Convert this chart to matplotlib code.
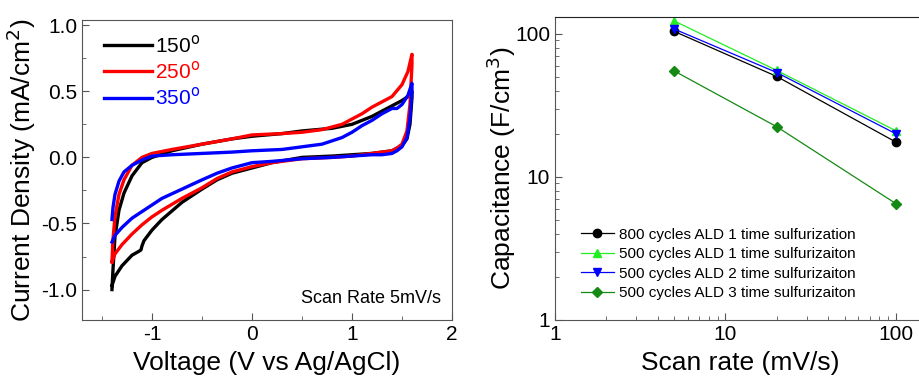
import numpy as np
import matplotlib.pyplot as plt
from matplotlib.ticker import MultipleLocator, LogLocator, NullFormatter

plt.rcParams['font.family'] = ['Liberation Sans', 'DejaVu Sans']

# cyclic voltammetry loops: upper (anodic) branch then lower (cathodic) branch
v_150 = [-1.40, -1.39, -1.37, -1.33, -1.28, -1.20, -1.10, -1.00, -0.80, -0.50, -0.20, 0.00, 0.30,
         0.50, 0.80, 1.00, 1.20, 1.40, 1.50, 1.58, 1.60,
         1.60, 1.58, 1.55, 1.50, 1.45, 1.40, 1.30, 1.20, 1.00, 0.80, 0.50, 0.20, 0.00, -0.20,
         -0.35, -0.50, -0.70, -0.90, -1.00, -1.08, -1.10, -1.11, -1.13, -1.20, -1.30, -1.37, -1.40]
i_150 = [-1.00, -0.85, -0.60, -0.40, -0.27, -0.14, -0.04, 0.00, 0.05, 0.10, 0.14, 0.16, 0.18,
         0.20, 0.22, 0.25, 0.31, 0.39, 0.43, 0.47, 0.50,
         0.45, 0.25, 0.14, 0.09, 0.07, 0.05, 0.04, 0.03, 0.02, 0.01, 0.00, -0.04, -0.08, -0.12,
         -0.17, -0.24, -0.34, -0.47, -0.55, -0.63, -0.67, -0.70, -0.71, -0.74, -0.82, -0.90, -0.97]

v_250 = [-1.40, -1.39, -1.37, -1.33, -1.28, -1.20, -1.10, -1.00, -0.80, -0.50, -0.20, 0.00, 0.30,
         0.50, 0.70, 0.90, 1.00, 1.10, 1.20, 1.30, 1.40, 1.50, 1.56, 1.60,
         1.60, 1.58, 1.55, 1.50, 1.45, 1.40, 1.30, 1.20, 1.00, 0.80, 0.50, 0.20, 0.00, -0.20,
         -0.35, -0.50, -0.70, -0.90, -1.00, -1.10, -1.20, -1.30, -1.37, -1.40]
i_250 = [-0.79, -0.62, -0.45, -0.28, -0.17, -0.06, 0.00, 0.03, 0.06, 0.10, 0.14, 0.17, 0.18,
         0.19, 0.21, 0.25, 0.29, 0.33, 0.38, 0.42, 0.46, 0.55, 0.65, 0.78,
         0.70, 0.40, 0.20, 0.10, 0.07, 0.05, 0.04, 0.03, 0.01, 0.00, -0.01, -0.04, -0.07, -0.11,
         -0.16, -0.23, -0.31, -0.40, -0.45, -0.51, -0.58, -0.66, -0.73, -0.79]

v_350 = [-1.40, -1.39, -1.37, -1.33, -1.28, -1.20, -1.10, -1.00, -0.80, -0.50, -0.20, 0.00, 0.30,
         0.50, 0.70, 0.90, 1.00, 1.10, 1.20, 1.30, 1.40, 1.45, 1.50, 1.56, 1.60,
         1.60, 1.58, 1.55, 1.50, 1.45, 1.40, 1.30, 1.20, 1.00, 0.80, 0.50, 0.20, 0.00, -0.20,
         -0.35, -0.50, -0.70, -0.90, -1.00, -1.10, -1.20, -1.30, -1.37, -1.40]
i_350 = [-0.47, -0.38, -0.28, -0.18, -0.11, -0.06, -0.02, 0.01, 0.02, 0.03, 0.04, 0.05, 0.06,
         0.08, 0.10, 0.15, 0.19, 0.24, 0.28, 0.33, 0.37, 0.37, 0.40, 0.47, 0.56,
         0.50, 0.30, 0.15, 0.08, 0.05, 0.03, 0.02, 0.02, 0.01, 0.00, -0.01, -0.03, -0.04, -0.08,
         -0.12, -0.17, -0.24, -0.31, -0.36, -0.41, -0.46, -0.53, -0.59, -0.64]

cv_labels = ['150$^{\\mathrm{o}}$', '250$^{\\mathrm{o}}$', '350$^{\\mathrm{o}}$']
cv_colors = ['black', '#ff0000', '#0000ff']

# capacitance vs scan rate
scan_rate = [5, 20, 100]
cap_800_1 = [104, 50.3, 17.5]
cap_500_1 = [123, 55.4, 21.0]
cap_500_2 = [108, 53.6, 20.0]
cap_500_3 = [55, 22.4, 6.5]
cap_labels = ['800 cycles ALD 1 time sulfurization',
              '500 cycles ALD 1 time sulfurizaiton',
              '500 cycles ALD 2 time sulfurizaiton',
              '500 cycles ALD 3 time sulfurizaiton']
cap_colors = ['black', '#22ee22', '#0000ff', '#148a14']
cap_markers = ['o', '^', 'v', 'D']

fig = plt.figure(figsize=(9.19, 3.77), dpi=100)
spine_col = '#555555'

# ---- left panel: CV curves
ax1 = fig.add_axes([0.0892, 0.1512, 0.4026, 0.796])
for v, i, lab, c in zip([v_150, v_250, v_350], [i_150, i_250, i_350], cv_labels, cv_colors):
    ax1.plot(v, i, color=c, lw=2.4, label=lab, solid_joinstyle='round')
ax1.set_xlim(-1.7, 2)
ax1.set_ylim(-1.23, 1.04)
ax1.xaxis.set_major_locator(MultipleLocator(1))
ax1.xaxis.set_minor_locator(MultipleLocator(0.5))
ax1.yaxis.set_major_locator(MultipleLocator(0.5))
ax1.yaxis.set_minor_locator(MultipleLocator(0.25))
ax1.set_yticks([-1.0, -0.5, 0.0, 0.5, 1.0])
ax1.set_yticklabels(['-1.0', '-0.5', '0.0', '0.5', '1.0'])
ax1.set_xticks([-1, 0, 1, 2])
ax1.set_xticklabels(['-1', '0', '1', '2'])
ax1.tick_params(which='both', direction='in', labelsize=15, color=spine_col)
ax1.tick_params(which='major', length=5)
ax1.tick_params(which='minor', length=3)
for s in ax1.spines.values():
    s.set_color(spine_col)
ax1.set_xlabel('Voltage (V vs Ag/AgCl)', fontsize=19, labelpad=5)
ax1.set_ylabel('Current Density (mA/cm$^2$)', fontsize=19, labelpad=2)
leg = ax1.legend(loc='upper left', frameon=False, fontsize=15, handlelength=2.3,
                 handletextpad=0.15, labelspacing=0.2, borderaxespad=0.3,
                 bbox_to_anchor=(0.02, 1.0))
for txt, c in zip(leg.get_texts(), cv_colors):
    txt.set_color(c)
ax1.text(0.97, 0.07, 'Scan Rate 5mV/s', transform=ax1.transAxes, ha='right',
         va='center', fontsize=13)

# ---- right panel: capacitance vs scan rate
ax2 = fig.add_axes([0.6039, 0.1512, 0.4037, 0.8037])
for y, lab, c, m in zip([cap_800_1, cap_500_1, cap_500_2, cap_500_3], cap_labels,
                        cap_colors, cap_markers):
    ax2.plot(scan_rate, y, color=c, lw=0.9, marker=m, ms=6 if m != 'D' else 5,
             label=lab)
ax2.set_xscale('log')
ax2.set_yscale('log')
ax2.set_xlim(1, 150)
ax2.set_ylim(1, 131)
ax2.set_xticks([1, 10, 100])
ax2.set_xticklabels(['1', '10', '100'])
ax2.set_yticks([1, 10, 100])
ax2.set_yticklabels(['1', '10', '100'])
ax2.xaxis.set_minor_locator(LogLocator(base=10, subs=np.arange(2, 10)))
ax2.yaxis.set_minor_locator(LogLocator(base=10, subs=np.arange(2, 10)))
ax2.xaxis.set_minor_formatter(NullFormatter())
ax2.yaxis.set_minor_formatter(NullFormatter())
ax2.tick_params(which='both', direction='in', labelsize=15, color=spine_col)
ax2.tick_params(which='major', length=5)
ax2.tick_params(which='minor', length=3)
for s in ax2.spines.values():
    s.set_color(spine_col)
ax2.spines['top'].set_color('#222222')
ax2.set_xlabel('Scan rate (mV/s)', fontsize=19, labelpad=5)
ax2.set_ylabel('Capacitance (F/cm$^3$)', fontsize=19, labelpad=-2)
ax2.legend(loc='lower left', frameon=False, fontsize=11, handlelength=2.2,
           handletextpad=0.3, labelspacing=0.36, borderaxespad=0.3,
           bbox_to_anchor=(0.04, 0.03))

fig.savefig('out.png', dpi=100)
